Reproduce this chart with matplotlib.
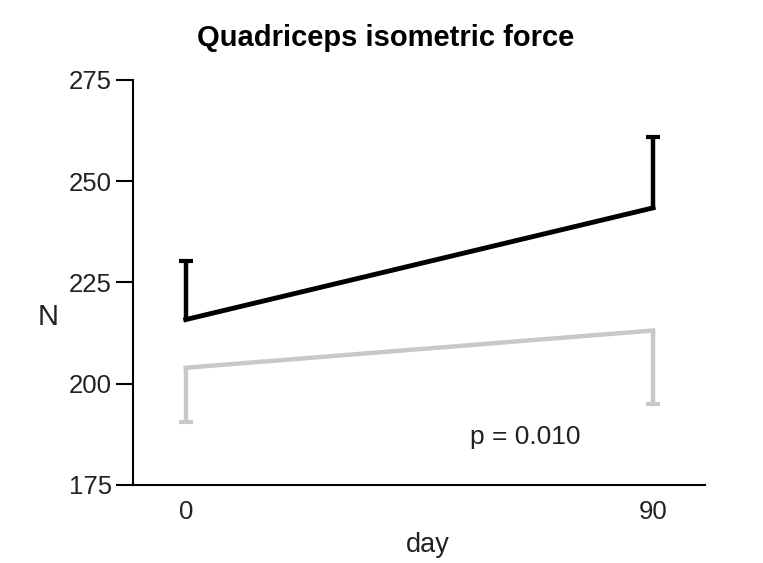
import matplotlib
matplotlib.use("Agg")
import matplotlib.pyplot as plt
import numpy as np

plt.rcParams['font.family'] = ['Liberation Sans', 'DejaVu Sans']

days = [0, 90]
day_labels = ["0", "90"]
black_mean = [215.8, 243.4]
black_sem = [14.4, 17.6]
gray_mean = [203.9, 213.1]
gray_sem = [13.5, 18.1]
y_ticks = [175, 200, 225, 250, 275]

fig = plt.figure(figsize=(7.63, 5.63), dpi=100)
ax = fig.add_axes([0.174, 0.139, 0.750, 0.719])

z = np.zeros(len(days))
ln, caps, bars = ax.errorbar(days, black_mean, yerr=[z, black_sem], color='black',
                             lw=3.5, elinewidth=3.2, capsize=5, capthick=3)
caps[0].set_visible(False)
ln2, caps2, bars2 = ax.errorbar(days, gray_mean, yerr=[gray_sem, z], color='#c8c8c8',
                                lw=3.2, elinewidth=3.2, capsize=5, capthick=3)
caps2[1].set_visible(False)

ax.set_xlim(-10.2, 100)
ax.set_ylim(175, 275)
ax.set_yticks(y_ticks)
ax.set_xticks(days)
ax.set_xticklabels(day_labels)
ax.spines['top'].set_visible(False)
ax.spines['right'].set_visible(False)
for s in ('left', 'bottom'):
    ax.spines[s].set_linewidth(1.5)
ax.tick_params(axis='y', length=12, width=1.5, labelsize=18.5, pad=3)
ax.tick_params(axis='x', length=0, labelsize=18.5, pad=11)
for t in ax.get_yticklabels() + ax.get_xticklabels():
    t.set_color('#222222')

ax.set_xlabel('day', fontsize=19.5, color='#222222', va='center')
ax.xaxis.set_label_coords(0.516, -0.148)
fig.text(48 / 763, 1 - 317 / 563, 'N', fontsize=21, ha='center', va='center', color='#222222')
fig.text(386 / 763, 1 - 38 / 563, 'Quadriceps isometric force', fontsize=21,
         fontweight='bold', ha='center', va='center')
ax.text(65.3, 186.9, 'p = 0.010', fontsize=19, ha='center', va='center', color='#222222')

fig.savefig('out.png', dpi=100, facecolor='white')
